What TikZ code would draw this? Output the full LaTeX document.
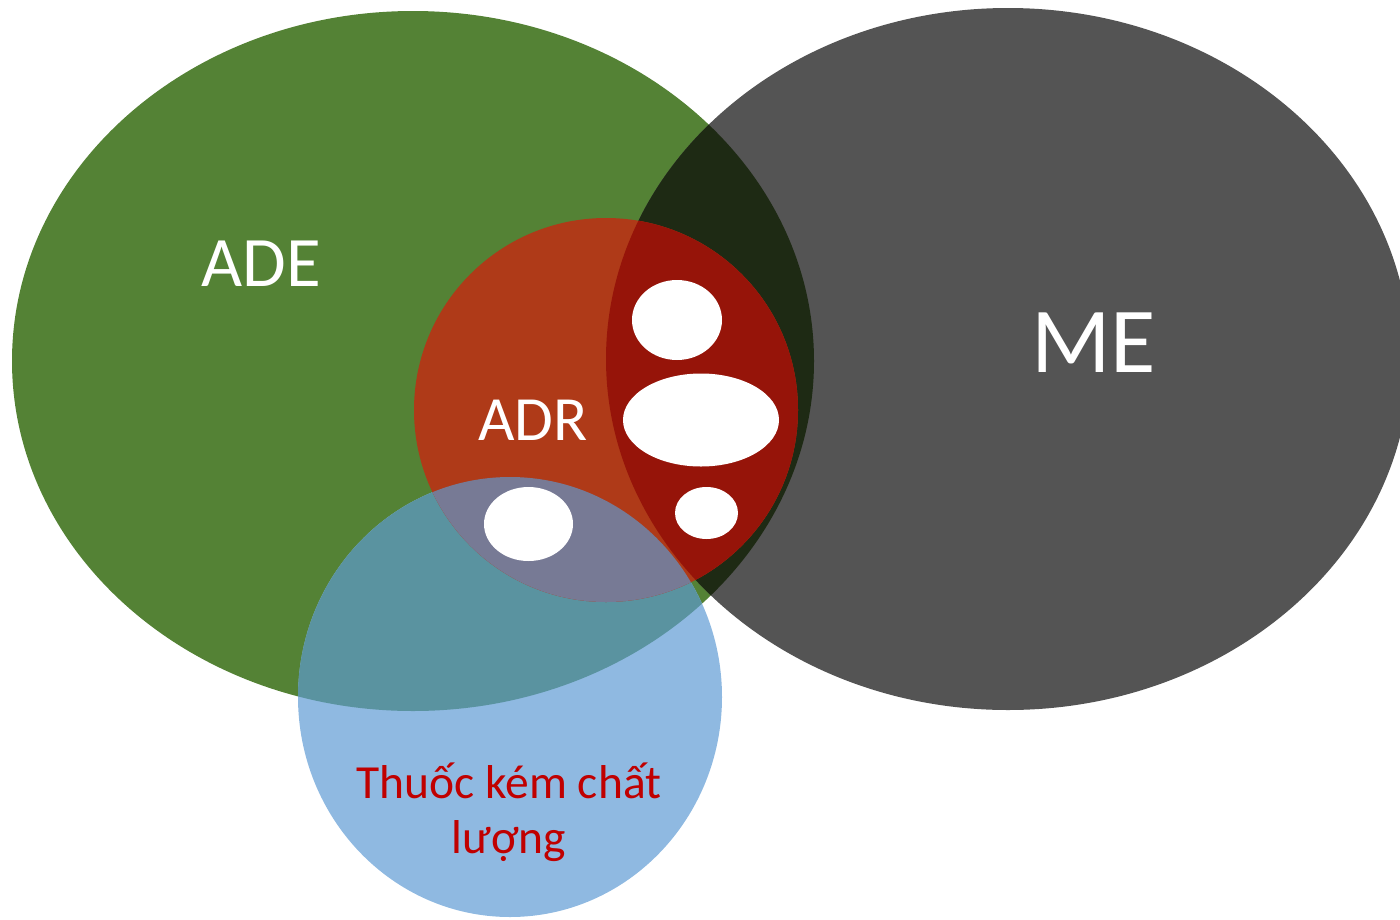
\documentclass[tikz,border=0pt]{standalone}
\usepackage{fontspec}
\setmainfont{Carlito}
\definecolor{cGreen}{HTML}{548235}
\definecolor{cGray}{HTML}{545454}
\definecolor{cGreenGray}{HTML}{1E2A14}
\definecolor{cRedGreen}{HTML}{AF3A18}
\definecolor{cRedGray}{HTML}{961409}
\definecolor{cBlue}{HTML}{8FB9E1}
\definecolor{cBlueGreen}{HTML}{5A93A0}
\definecolor{cBlueRed}{HTML}{777A95}
\definecolor{cText}{HTML}{C00000}
\tikzset{
  lbl/.style={inner sep=0pt, anchor=base, text=white},
  hole/.style={fill=white},
}
\newcommand{\greenE}{(413,361) ellipse [x radius=401pt, y radius=350pt]}
\newcommand{\grayE}{(1008,359) ellipse [x radius=402pt, y radius=351pt]}
\newcommand{\redC}{(606,410) circle [radius=192pt]}
\newcommand{\blueC}{(510,697) ellipse [x radius=212pt, y radius=220pt]}
\begin{document}
\begin{tikzpicture}[x=1pt,y=-1pt]
\useasboundingbox (0,0) rectangle (1400,919);
\clip (0,0) rectangle (1400,919);
% ADE ellipse
\fill[cGreen] \greenE;
% blue circle (drawn below gray)
\fill[cBlue] \blueC;
\begin{scope}
  \clip \blueC;
  \fill[cBlueGreen] \greenE;
\end{scope}
% ME ellipse
\fill[cGray] \grayE;
\begin{scope}
  \clip \greenE;
  \fill[cGreenGray] \grayE;
\end{scope}
% ADR circle
\fill[cRedGreen] \redC;
\begin{scope}
  \clip \redC;
  \fill[cRedGray] \grayE;
\end{scope}
\begin{scope}
  \clip \blueC;
  \fill[cBlueRed] \redC;
\end{scope}
% white holes
\fill[hole] (677,320) ellipse [x radius=45pt, y radius=40pt];
\fill[hole] (701,420) ellipse [x radius=78pt, y radius=46.5pt];
\fill[hole] (706.5,513) ellipse [x radius=31.5pt, y radius=26pt];
\fill[hole] (528.5,524) ellipse [x radius=44.5pt, y radius=37pt];
% labels
\node[lbl, font=\fontsize{71}{80}\selectfont] (ade) at (261.5,286) {ADE};
\node[lbl, font=\fontsize{93}{100}\selectfont] (me) at (1093.5,372) {ME};
\node[lbl, font=\fontsize{63}{70}\selectfont] (adr) at (533,440) {ADR};
\node[inner sep=0pt, anchor=base, text=cText, font=\fontsize{47.5}{55}\selectfont] (tk1) at (509,798) {Thuốc kém chất};
\node[inner sep=0pt, anchor=base, text=cText, font=\fontsize{47.5}{55}\selectfont] (tk2) at (509,853) {lượng};
\end{tikzpicture}
\end{document}
